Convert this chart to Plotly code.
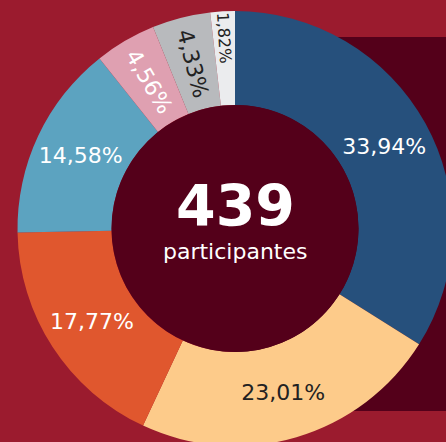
import plotly.graph_objects as go

labels = ["A", "B", "C", "D", "E", "F", "G"]
counts = [149, 101, 78, 64, 20, 19, 8]
pct_text = ["33,94%", "23,01%", "17,77%", "14,58%", "4,56%", "4,33%", "1,82%"]
colors = ["#26507C", "#FDCB8A", "#E0572E", "#5CA3C0", "#DFA0B1", "#B8BABD", "#EBECEE"]
text_colors = ["white", "#222222", "white", "white", "white", "#222222", "#222222"]
total_label = "439"
sub_label = "participantes"

W, H = 470, 470
cx, cy_top = 235, 228.5
R, r_in = 217.5, 123.5
cy = H - cy_top

fig = go.Figure()
fig.add_trace(go.Pie(
    labels=labels, values=counts, text=pct_text, textinfo="text",
    sort=False, direction="clockwise", rotation=0, hole=r_in / R,
    marker=dict(colors=colors, line=dict(width=0)),
    textfont=dict(family="DejaVu Sans", size=22, color=text_colors),
    insidetextorientation="auto", textposition="inside",
    domain=dict(x=[(cx - R) / W, (cx + R) / W], y=[(cy - R) / H, (cy + R) / H]),
    hoverinfo="skip", showlegend=False,
))
fig.add_trace(go.Pie(
    values=[1], textinfo="none", marker=dict(colors=["#54001A"], line=dict(width=0)),
    domain=dict(x=[(cx - r_in) / W, (cx + r_in) / W], y=[(cy - r_in) / H, (cy + r_in) / H]),
    hoverinfo="skip", showlegend=False, sort=False,
))
fig.add_shape(type="rect", xref="paper", yref="paper", x0=cx / W, x1=1,
              y0=1 - 411 / H, y1=1 - 37 / H, fillcolor="#54001A", line=dict(width=0), layer="below")
fig.add_annotation(x=cx / W, y=1 - 241 / H, xref="paper", yref="paper", text="<b>" + total_label + "</b>",
                   showarrow=False, yanchor="bottom", font=dict(family="DejaVu Sans", size=57, color="white"))
fig.add_annotation(x=cx / W, y=1 - 237 / H, xref="paper", yref="paper", text=sub_label,
                   showarrow=False, yanchor="top", font=dict(family="DejaVu Sans", size=22, color="white"))
fig.update_layout(width=W, height=H, margin=dict(l=0, r=0, t=0, b=0),
                  paper_bgcolor="#9B1B2E", plot_bgcolor="#9B1B2E")
fig.write_html("out.html", config={"displayModeBar": False},
               post_script="document.documentElement.style.overflow='hidden';document.body.style.overflow='hidden';document.body.style.margin='0';")
